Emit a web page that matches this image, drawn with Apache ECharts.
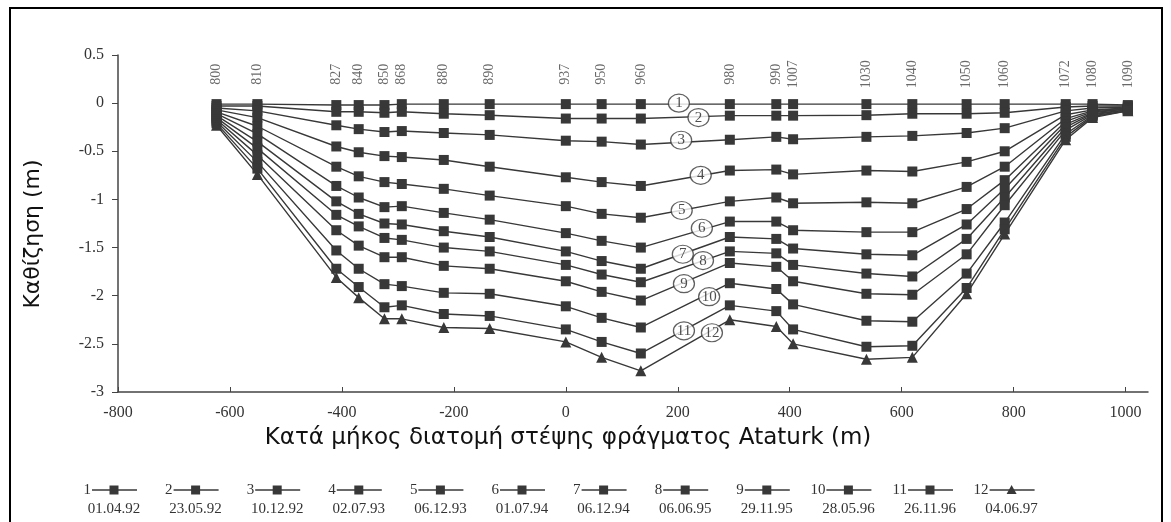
<!DOCTYPE html>
<html><head><meta charset="utf-8">
<script src="https://cdn.jsdelivr.net/npm/echarts@6/dist/echarts.min.js"></script>
<style>html,body{margin:0;padding:0;background:#fff}#c{width:1171px;height:522px}</style>
</head><body><div id="c"></div>
<script>
// Station chainage positions along the crest (m) and their station names
const stationX = [-624, -551, -410, -370, -324, -293, -218, -136, 0, 64, 134, 293, 376, 406, 537, 619, 716, 784, 893, 941, 1004];
const stationNames = ['800','810','827','840','850','868','880','890','937','950','960','980','990','1007','1030','1040','1050','1060','1072','1080','1090'];

// Settlement (m) for each survey
const s1  = [-0.01,-0.01,-0.02,-0.02,-0.02,-0.01,-0.01,-0.01,-0.01,-0.01,-0.01,-0.01,-0.01,-0.01,-0.01,-0.01,-0.01,-0.01,-0.01,-0.01,-0.02];
const s2  = [-0.03,-0.03,-0.09,-0.09,-0.10,-0.09,-0.11,-0.125,-0.16,-0.16,-0.16,-0.13,-0.13,-0.13,-0.125,-0.11,-0.11,-0.10,-0.04,-0.03,-0.03];
const s3  = [-0.05,-0.08,-0.23,-0.27,-0.30,-0.29,-0.31,-0.33,-0.39,-0.40,-0.43,-0.38,-0.35,-0.375,-0.35,-0.34,-0.31,-0.26,-0.08,-0.05,-0.04];
const s4  = [-0.07,-0.15,-0.45,-0.51,-0.55,-0.56,-0.59,-0.66,-0.77,-0.82,-0.86,-0.70,-0.69,-0.74,-0.70,-0.71,-0.61,-0.50,-0.12,-0.07,-0.05];
const s5  = [-0.09,-0.24,-0.66,-0.76,-0.82,-0.84,-0.89,-0.96,-1.07,-1.15,-1.19,-1.02,-0.98,-1.04,-1.03,-1.04,-0.87,-0.66,-0.16,-0.08,-0.05];
const s6  = [-0.11,-0.32,-0.86,-0.98,-1.08,-1.07,-1.14,-1.21,-1.35,-1.43,-1.50,-1.23,-1.23,-1.32,-1.34,-1.34,-1.10,-0.80,-0.19,-0.09,-0.06];
const s7  = [-0.13,-0.40,-1.02,-1.15,-1.25,-1.26,-1.33,-1.39,-1.54,-1.64,-1.72,-1.39,-1.41,-1.51,-1.57,-1.58,-1.26,-0.89,-0.22,-0.10,-0.06];
const s8  = [-0.15,-0.47,-1.16,-1.28,-1.40,-1.42,-1.50,-1.54,-1.68,-1.78,-1.86,-1.54,-1.56,-1.68,-1.77,-1.80,-1.41,-0.98,-0.25,-0.11,-0.07];
const s9  = [-0.17,-0.54,-1.32,-1.48,-1.60,-1.60,-1.69,-1.72,-1.85,-1.96,-2.05,-1.66,-1.70,-1.85,-1.98,-1.99,-1.57,-1.06,-0.28,-0.12,-0.07];
const s10 = [-0.19,-0.61,-1.53,-1.72,-1.88,-1.90,-1.97,-1.98,-2.11,-2.23,-2.33,-1.87,-1.93,-2.09,-2.26,-2.27,-1.77,-1.24,-0.32,-0.13,-0.08];
const s11 = [-0.21,-0.68,-1.72,-1.91,-2.12,-2.10,-2.19,-2.21,-2.35,-2.48,-2.60,-2.10,-2.16,-2.35,-2.53,-2.52,-1.92,-1.31,-0.35,-0.14,-0.08];
const s12 = [-0.23,-0.74,-1.81,-2.02,-2.24,-2.24,-2.33,-2.34,-2.48,-2.64,-2.78,-2.25,-2.32,-2.50,-2.66,-2.64,-1.98,-1.36,-0.38,-0.15,-0.08];

const surveyDates = ['01.04.92','23.05.92','10.12.92','02.07.93','06.12.93','01.07.94','06.12.94','06.06.95','29.11.95','28.05.96','26.11.96','04.06.97'];

// Circled curve tags (x, y in data units)
const tagX = [202, 237, 206, 241, 207, 243, 209, 245, 211, 256, 211, 261];
const tagY = [0, -0.15, -0.385, -0.75, -1.115, -1.30, -1.57, -1.635, -1.875, -2.01, -2.365, -2.385];

const xTickLabels = [-800, -600, -400, -200, 0, 200, 400, 600, 800, 1000];
const yTickLabels = [0.5, 0, -0.5, -1, -1.5, -2, -2.5, -3];

const stationLabelY = 0.30;

const allSeries = [s1,s2,s3,s4,s5,s6,s7,s8,s9,s10,s11,s12];
const INK = '#383838';
const SERIF = '"Liberation Serif", "DejaVu Serif", serif';
const SANS = '"DejaVu Sans", sans-serif';

const series = allSeries.map((vals, i) => ({
  type: 'line',
  name: surveyDates[i],
  data: stationX.map((x, k) => [x, vals[k]]),
  symbol: i === 11 ? 'triangle' : 'rect',
  symbolSize: i === 11 ? 11 : 10,
  showAllSymbol: true,
  lineStyle: { color: INK, width: 1.4 },
  itemStyle: { color: INK },
  z: 2
}));

series.push({
  type: 'scatter',
  data: stationX.map((x, k) => ({ value: [x, stationLabelY], name: stationNames[k] })),
  symbolSize: 0,
  label: {
    show: true, rotate: 90, position: 'inside', formatter: p => p.name,
    fontFamily: SERIF, fontSize: 14, color: '#444'
  },
  silent: true, z: 3
});

series.push({
  type: 'scatter',
  data: tagX.map((x, k) => ({ value: [x, tagY[k]], name: String(k + 1) })),
  symbol: 'circle',
  symbolSize: [21, 18],
  itemStyle: { color: '#fff', borderColor: INK, borderWidth: 1.2 },
  label: { show: true, position: 'inside', formatter: p => p.name, fontFamily: SERIF, fontSize: 15, color: '#222' },
  silent: true, z: 5
});

// Legend drawn as graphic groups
const legendEls = [];
surveyDates.forEach((d, i) => {
  const cx = 114 + 81.6 * i;
  const ly = 490;
  legendEls.push({ type: 'text', x: cx - 23, y: ly, style: { text: String(i + 1), fontFamily: SERIF, fontSize: 15, fill: '#333', textAlign: 'right', textVerticalAlign: 'middle' } });
  legendEls.push({ type: 'line', shape: { x1: cx - 22, y1: ly, x2: cx + 23, y2: ly }, style: { stroke: INK, lineWidth: 1.3 } });
  if (i === 11) {
    legendEls.push({ type: 'polygon', shape: { points: [[cx, ly - 5], [cx - 5, ly + 4], [cx + 5, ly + 4]] }, style: { fill: INK } });
  } else {
    legendEls.push({ type: 'rect', shape: { x: cx - 4.5, y: ly - 4.5, width: 9, height: 9 }, style: { fill: INK } });
  }
  legendEls.push({ type: 'text', x: cx, y: 509, style: { text: d, fontFamily: SERIF, fontSize: 15, fill: '#333', textAlign: 'center', textVerticalAlign: 'middle' } });
});
legendEls.push({ type: 'rect', shape: { x: 10, y: 8, width: 1152, height: 530 }, style: { fill: 'none', stroke: '#000', lineWidth: 2 }, z: 100 });
legendEls.push({ type: 'text', x: 568, y: 438, style: { text: 'Κατά μήκος διατομή στέψης φράγματος Ataturk (m)', fontFamily: SANS, fontSize: 23, fill: '#111', textAlign: 'center', textVerticalAlign: 'middle' } });
legendEls.push({ type: 'text', x: 33, y: 234, rotation: Math.PI / 2, style: { text: 'Καθίζηση (m)', fontFamily: SANS, fontSize: 22, fill: '#111', textAlign: 'center', textVerticalAlign: 'middle' } });

const chart = echarts.init(document.getElementById('c'), null, { renderer: 'canvas' });
chart.setOption({
  animation: false,
  backgroundColor: '#fff',
  grid: { left: 118, right: 23, top: 55, bottom: 130 },
  xAxis: {
    type: 'value', min: -800, max: 1040, interval: 200,
    splitLine: { show: false },
    axisLine: { onZero: false, lineStyle: { color: '#444', width: 1.5 } },
    axisTick: { inside: true, length: 5, lineStyle: { color: '#444' }, customValues: xTickLabels },
    axisLabel: { customValues: xTickLabels, formatter: v => String(v), fontFamily: SERIF, fontSize: 16, color: '#333', margin: 13 }
  },
  yAxis: {
    type: 'value', min: -3, max: 0.5, interval: 0.5,
    splitLine: { show: false },
    axisLine: { show: true, onZero: false, lineStyle: { color: '#444', width: 1.5 } },
    axisTick: { show: true, length: 6, lineStyle: { color: '#444' }, customValues: yTickLabels },
    axisLabel: { customValues: yTickLabels, formatter: v => String(v), fontFamily: SERIF, fontSize: 16, color: '#333', margin: 14 }
  },
  graphic: legendEls,
  series
});
</script>
</body></html>
